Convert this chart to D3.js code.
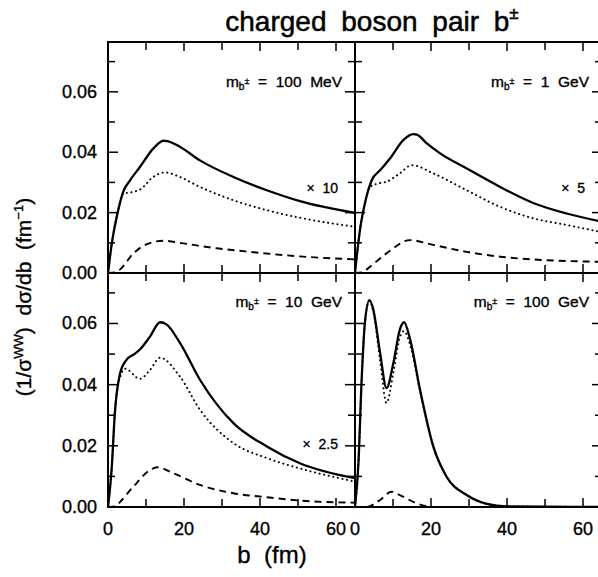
<!DOCTYPE html>
<html>
<head>
<meta charset="utf-8">
<script src="https://cdn.jsdelivr.net/npm/d3@7"></script>
<style>
  body { margin: 0; background: #fff; }
  svg text { font-family: "Liberation Sans", Arial, sans-serif; fill: #000; stroke: #000; stroke-width: 0.35px; }
</style>
</head>
<body>
<svg id="chart" width="598" height="577"></svg>
<script>
// curves: [b (fm), (1/sigma) dsigma/db (fm^-1)]
var solid100MeV = [[0,0],[1,0.0098],[2.3,0.0186],[4,0.0269],[5.8,0.0307],[8.4,0.0351],[11.9,0.0412],[14.6,0.0438],[15.6,0.0437],[18.9,0.0418],[24.2,0.0373],[33,0.0318],[41.8,0.0274],[50.5,0.0238],[65,0.0199]];
var dotted100MeV = [[0,0],[1,0.0098],[2.3,0.0186],[4,0.0262],[6.7,0.0269],[8.4,0.0276],[11.9,0.0318],[15,0.0333],[18.9,0.0318],[24.2,0.0285],[33,0.0241],[41.8,0.0208],[50.5,0.0183],[65,0.0153]];
var dashed100MeV = [[0,0],[2,0.0002],[3.2,0.0012],[6.7,0.0065],[9.8,0.0093],[14.6,0.0107],[19.8,0.0098],[28.6,0.0082],[37.4,0.0070],[50.5,0.0055],[65,0.0045]];

var solid1GeV = [[0,0],[1.3,0.0142],[2.6,0.023],[4.4,0.0307],[6.6,0.034],[9.2,0.0379],[12.7,0.044],[15.3,0.046],[16.3,0.0458],[18.9,0.0429],[22.4,0.0396],[29.4,0.0346],[38.2,0.0285],[46.9,0.0232],[55.7,0.0197],[65,0.017]];
var dotted1GeV = [[0,0],[1.3,0.0142],[2.6,0.023],[3.9,0.0285],[6,0.0296],[8.3,0.0302],[11.8,0.033],[14.9,0.0357],[20.6,0.033],[29.4,0.0274],[38.2,0.0219],[46.9,0.0181],[55.7,0.0159],[65,0.0135]];
var dashed1GeV = [[0,0],[2,0.0002],[3.1,0.0012],[8.3,0.0065],[14.5,0.0109],[20.6,0.0093],[29.4,0.007],[38.2,0.0054],[46.9,0.0045],[65,0.0037]];

var solid10GeV = [[0,0],[1,0.0132],[1.8,0.0307],[3.2,0.0438],[4.9,0.0482],[6.7,0.0498],[8.4,0.0515],[11.1,0.0558],[13.7,0.0604],[15.4,0.0597],[18.9,0.0537],[24.2,0.0416],[33,0.0274],[41.8,0.0198],[50.5,0.0143],[65,0.0094]];
var dotted10GeV = [[0,0],[1,0.0132],[1.8,0.0307],[3.2,0.0425],[4.5,0.0452],[8.4,0.0419],[11.1,0.0449],[13.7,0.0488],[18.9,0.0427],[24.2,0.0318],[33,0.0209],[41.8,0.016],[50.5,0.0126],[65,0.0083]];
var dashed10GeV = [[0,0],[2,0.0002],[3.2,0.0017],[6.7,0.0067],[11.1,0.0121],[12.9,0.013],[17.3,0.011],[24.2,0.0072],[33,0.0045],[41.8,0.0032],[50.5,0.0021],[65,0.0014]];

var solid100GeV = [[0,0],[0.9,0.0143],[1.75,0.0416],[2.6,0.0602],[3.8,0.0676],[4.8,0.0646],[6.6,0.0504],[8.3,0.0389],[10.1,0.0471],[11.8,0.058],[12.9,0.0604],[14.5,0.0548],[17.1,0.0384],[20.6,0.0198],[24.1,0.0099],[29.4,0.0039],[34.7,0.001],[40,0.0002],[65,0]];
var dotted100GeV = [[0,0],[0.9,0.0143],[1.75,0.0416],[2.6,0.0602],[3.8,0.0674],[4.8,0.0640],[6.6,0.048],[8.3,0.034],[10.1,0.044],[11.8,0.0555],[12.9,0.0575],[14.5,0.053],[17.1,0.0380],[20.6,0.0198],[24.1,0.0099],[29.4,0.0039],[34.7,0.001],[40,0.0002],[65,0]];
var dashed100GeV = [[0,0],[3,0],[6.6,0.0023],[9.6,0.005],[11.8,0.0039],[16.2,0.0012],[19.5,0]];

var massLabels = ["100  MeV", "1  GeV", "10  GeV", "100  GeV"];
var factorLabels = ["\u00d7  10", "\u00d7  5", "\u00d7  2.5", ""];
var yTickLabels = [0, 0.02, 0.04, 0.06];
var xTickLabels = [0, 20, 40, 60];

var panels = [
  {col: 0, row: 0, mass: massLabels[0], factor: factorLabels[0], solid: solid100MeV, dotted: dotted100MeV, dashed: dashed100MeV},
  {col: 1, row: 0, mass: massLabels[1], factor: factorLabels[1], solid: solid1GeV, dotted: dotted1GeV, dashed: dashed1GeV},
  {col: 0, row: 1, mass: massLabels[2], factor: factorLabels[2], solid: solid10GeV, dotted: dotted10GeV, dashed: dashed10GeV},
  {col: 1, row: 1, mass: massLabels[3], factor: factorLabels[3], solid: solid100GeV, dotted: dotted100GeV, dashed: dashed100GeV}
];

var svg = d3.select("#chart");
var colX = [[108, 355], [355, 602]];
var rowY = [[42, 273], [273, 507]];

panels.forEach(function(p){
  var x = d3.scaleLinear().domain([0, 65]).range(colX[p.col]);
  var y = d3.scaleLinear().domain([0, 0.0765]).range([rowY[p.row][1], rowY[p.row][0]]);
  var g = svg.append("g");

  var clip = "clip" + p.col + p.row;
  g.append("clipPath").attr("id", clip).append("rect")
    .attr("x", x(0)).attr("y", y(0.0765) - 2)
    .attr("width", x(65) - x(0)).attr("height", y(0) - y(0.0765) + 2);

  var line = d3.line().x(function(d){ return x(d[0]); }).y(function(d){ return y(d[1]); })
    .curve(d3.curveMonotoneX);

  g.append("path").datum(p.dashed).attr("d", line).attr("clip-path", "url(#" + clip + ")")
    .attr("fill", "none").attr("stroke", "#000").attr("stroke-width", 1.9)
    .attr("stroke-dasharray", "7,5");
  g.append("path").datum(p.dotted).attr("d", line).attr("clip-path", "url(#" + clip + ")")
    .attr("fill", "none").attr("stroke", "#000").attr("stroke-width", 2)
    .attr("stroke-dasharray", "0.1,4.6").attr("stroke-linecap", "round");
  g.append("path").datum(p.solid).attr("d", line).attr("clip-path", "url(#" + clip + ")")
    .attr("fill", "none").attr("stroke", "#000").attr("stroke-width", 2.3)
    .attr("stroke-linejoin", "round");

  // ticks pointing inward on all four sides
  var yt = d3.range(0, 0.0765, 0.01);
  yt.forEach(function(v, i){
    var len = (i % 2 === 0) ? 10 : 7;
    g.append("line").attr("x1", x(0)).attr("x2", x(0) + len).attr("y1", y(v)).attr("y2", y(v))
      .attr("stroke", "#000").attr("stroke-width", 1.5);
    g.append("line").attr("x1", x(65)).attr("x2", x(65) - len).attr("y1", y(v)).attr("y2", y(v))
      .attr("stroke", "#000").attr("stroke-width", 1.5);
  });
  d3.range(10, 65, 10).forEach(function(b){
    var len = (b % 20 === 0) ? 9 : 8;
    g.append("line").attr("x1", x(b)).attr("x2", x(b)).attr("y1", y(0)).attr("y2", y(0) - len)
      .attr("stroke", "#000").attr("stroke-width", 1.5);
    g.append("line").attr("x1", x(b)).attr("x2", x(b)).attr("y1", y(0.0765)).attr("y2", y(0.0765) + len)
      .attr("stroke", "#000").attr("stroke-width", 1.5);
  });

  // frame
  g.append("rect").attr("x", x(0)).attr("y", y(0.0765))
    .attr("width", x(65) - x(0)).attr("height", y(0) - y(0.0765))
    .attr("fill", "none").attr("stroke", "#000").attr("stroke-width", 2);

  if (p.col === 0) {
    g.selectAll(".ytl").data(yTickLabels).enter().append("text")
      .attr("x", 97).attr("y", function(d){ return y(d) + 6; })
      .attr("text-anchor", "end").attr("font-size", 18)
      .text(function(d){ return d3.format(".2f")(d); });
  }
  if (p.row === 1) {
    g.selectAll(".xtl").data(xTickLabels).enter().append("text")
      .attr("x", function(d){ return x(d); }).attr("y", 535)
      .attr("text-anchor", "middle").attr("font-size", 18)
      .text(function(d){ return d; });
  }

  // mass label
  var ml = g.append("text").attr("x", x(65) - 13).attr("y", y(0.0765) + (p.row === 0 ? 45 : 34))
    .attr("text-anchor", "end").attr("font-size", 15.5).attr("xml:space", "preserve");
  ml.append("tspan").text("m");
  ml.append("tspan").attr("font-size", 10).attr("dy", 3).text("b");
  ml.append("tspan").attr("font-size", 9).attr("dy", -6).text("\u00b1");
  ml.append("tspan").attr("dy", 3).text("  =  " + p.mass);

  if (p.factor) {
    g.append("text").attr("x", x(65) - 17).attr("y", p.row === 0 ? 193 : 449)
      .attr("text-anchor", "end").attr("font-size", 14).attr("xml:space", "preserve")
      .text(p.factor);
  }
});

// title
var title = svg.append("text").attr("x", 372).attr("y", 31).attr("text-anchor", "middle")
  .attr("font-size", 28).attr("word-spacing", 7).style("stroke-width", "0.5px");
title.append("tspan").text("charged boson pair b");
title.append("tspan").attr("font-size", 17).attr("dy", -12).text("\u00b1");

// axis titles
svg.append("text").attr("x", 272).attr("y", 563).attr("text-anchor", "middle")
  .attr("font-size", 24).attr("xml:space", "preserve").text("b  (fm)");

var yl = svg.append("text").attr("transform", "translate(31,297) rotate(-90)")
  .attr("text-anchor", "middle").attr("font-size", 21).attr("xml:space", "preserve");
yl.append("tspan").text("(1/\u03c3");
yl.append("tspan").attr("font-size", 13).attr("dy", -8).text("WW");
yl.append("tspan").attr("dy", 8).text(")  d\u03c3/db  (fm");
yl.append("tspan").attr("font-size", 13).attr("dy", -8).text("\u22121");
yl.append("tspan").attr("dy", 8).text(")");
</script>
</body>
</html>
